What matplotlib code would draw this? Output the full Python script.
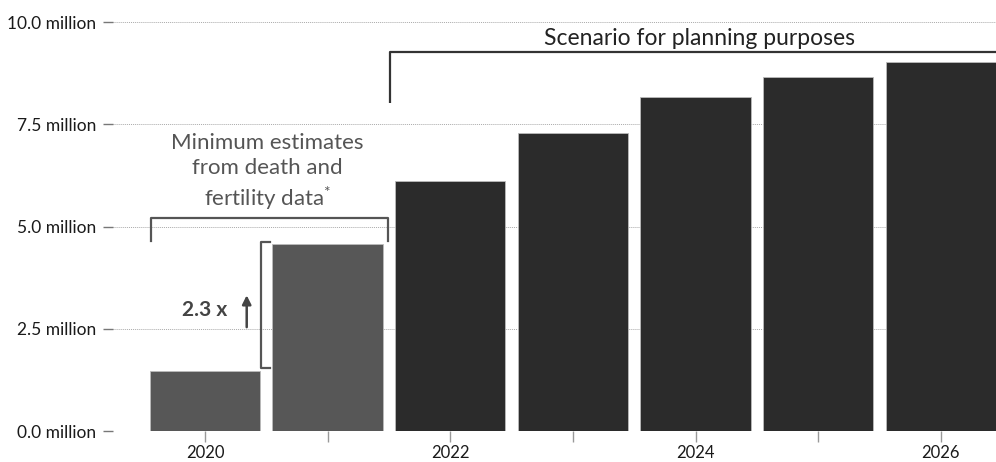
import matplotlib.pyplot as plt

plt.rcParams['font.family'] = ['Lato', 'DejaVu Sans']
plt.rcParams['mathtext.fontset'] = 'custom'
plt.rcParams['mathtext.rm'] = 'Lato'

years = [2020, 2021, 2022, 2023, 2024, 2025, 2026]
cases = [1.46, 4.58, 6.12, 7.29, 8.17, 8.66, 9.02]
estimated = [True, True, False, False, False, False, False]
y_ticks = [0.0, 2.5, 5.0, 7.5, 10.0]
x_labels = {2020: '2020', 2022: '2022', 2024: '2024', 2026: '2026'}


def draw_chart():
    fig = plt.figure(figsize=(9.96, 4.62), dpi=100)
    ax = fig.add_axes([0.1135, 0.067, 0.8865, 0.933])

    colors = ['#575757' if e else '#2b2b2b' for e in estimated]
    ax.bar(years, cases, width=0.9, color=colors, edgecolor='#bbbbbb',
           linewidth=0.6, zorder=2)

    ax.set_xlim(2019.25, 2026.45)
    ax.set_ylim(0, 10.54)

    ax.set_yticks(y_ticks)
    ax.set_yticklabels(['{:.1f} million'.format(t) for t in y_ticks])
    ax.set_xticks(years)
    ax.set_xticklabels([x_labels.get(y, '') for y in years])

    ax.grid(axis='y', color='#aaaaaa', linestyle=(0, (1, 1)), linewidth=0.7, zorder=0)
    ax.tick_params(axis='y', length=7, width=1, color='#777777', pad=5,
                   labelsize=12.5, labelcolor='#1a1a1a')
    ax.tick_params(axis='x', length=8, width=1, color='#999999', pad=2,
                   labelsize=12, labelcolor='#1a1a1a', direction='out')
    for s in ax.spines.values():
        s.set_visible(False)

    # bracket for the scenario bars
    br = dict(color='#333333', linewidth=1.6, clip_on=False, solid_capstyle='butt')
    ax.plot([2021.51, 2021.51, 2026.6], [8.02, 9.27, 9.27], **br)
    ax.text(2024.03, 9.61, 'Scenario for planning purposes', ha='center',
            va='center', fontsize=16.5, color='#222222')

    # bracket for the estimated bars
    gr = dict(color='#555555', linewidth=1.6, clip_on=False)
    ax.plot([2019.56, 2019.56, 2021.49, 2021.49], [4.65, 5.21, 5.21, 4.65], **gr)
    ax.text(2020.51, 6.33, 'Minimum estimates\nfrom death and\nfertility data$^{\\mathrm{*}}$',
            ha='center', va='center', fontsize=16, color='#555555', linespacing=1.3)

    # growth marker
    ax.plot([2020.53, 2020.46, 2020.46, 2020.53], [4.62, 4.62, 1.54, 1.54], **gr)
    ax.annotate('', xy=(2020.34, 3.32), xytext=(2020.34, 2.54),
                arrowprops=dict(arrowstyle='-|>', color='#444444', lw=1.8,
                                mutation_scale=13, shrinkA=0, shrinkB=0))
    ax.text(2020.0, 2.96, '2.3 x', ha='center', va='center', fontsize=15,
            fontweight='bold', color='#444444')

    fig.savefig('out.png', dpi=100)


if __name__ == "__main__":
    draw_chart()
